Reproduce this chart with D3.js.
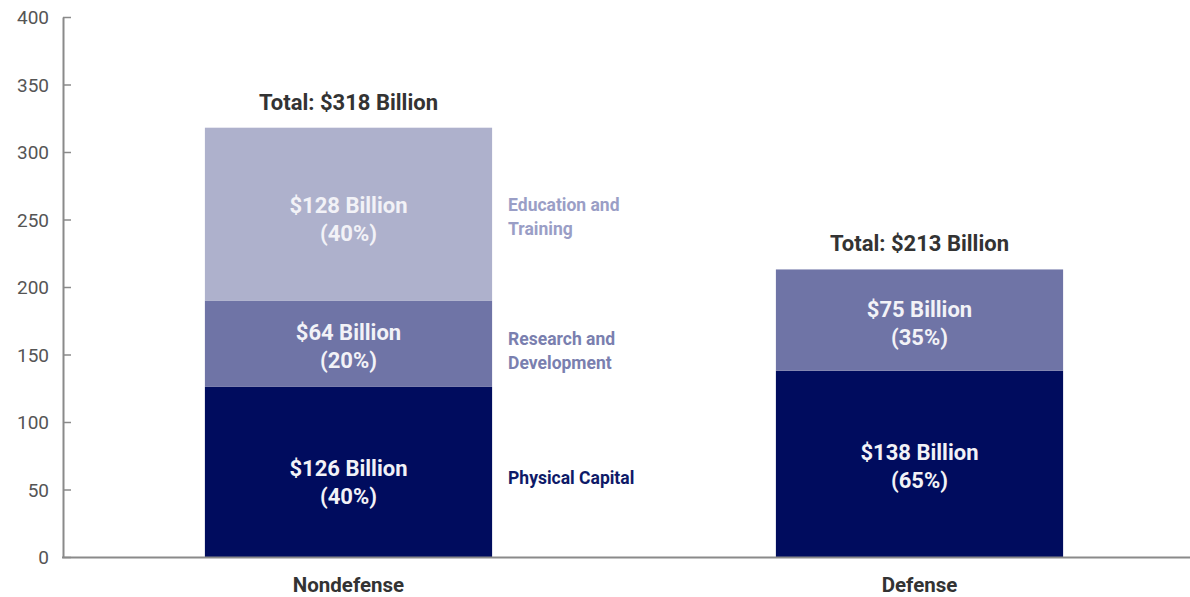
<!DOCTYPE html>
<html>
<head>
<meta charset="utf-8">
<script src="https://cdn.jsdelivr.net/npm/d3@7"></script>
<style>
  html, body { margin: 0; padding: 0; background: #fff; }
  svg { display: block; }
  text { font-family: "Roboto", "DejaVu Sans Condensed", sans-serif; }
</style>
</head>
<body>
<svg id="chart" width="1190" height="597"></svg>
<script>
// ---- data ----
const categories = ["Nondefense", "Defense"];
const seriesNames = ["Physical Capital", "Research and Development", "Education and Training"];
const physicalCapital = [126, 138];
const researchDevelopment = [64, 75];
const educationTraining = [128, 0];
const percentPhysical = ["40%", "65%"];
const percentResearch = ["20%", "35%"];
const percentEducation = ["40%", ""];
const totals = [318, 213];
const yTicks = [0, 50, 100, 150, 200, 250, 300, 350, 400];
const sideLabels = [["Physical Capital"], ["Research and", "Development"], ["Education and", "Training"]];

// ---- layout ----
const svg = d3.select("#chart");
const colors = ["#000C5E", "#6F74A6", "#AEB1CC"];
const sideColors = ["#0E1A68", "#7A7FAF", "#9A9EC6"];
const axisColor = "#8a8a8a";
// small vertical nudges for in-bar labels [series][category] and side labels [series]
const labelNudge = [[9, 1], [1, 2], [4, 0]];
const sideNudge = [-2, -1, -5];

const y = d3.scaleLinear().domain([0, 400]).range([557, 17]);
const x = d3.scaleBand().domain(categories).range([63, 1205]).paddingInner(0.497).paddingOuter(0.2485);

const seriesValues = [physicalCapital, researchDevelopment, educationTraining];
const seriesPct = [percentPhysical, percentResearch, percentEducation];

// y axis
const yAxis = d3.axisLeft(y).tickValues(yTicks).tickSize(-8).tickPadding(14).tickSizeOuter(0);
const gy = svg.append("g").attr("transform", "translate(63,0)").call(yAxis);
gy.select(".domain").attr("stroke", axisColor).attr("stroke-width", 2);
gy.selectAll(".tick line").attr("stroke", axisColor).attr("stroke-width", 1.5);
gy.selectAll(".tick text").attr("fill", "#555")
  .style("font-size", "19px").attr("dy", "0.35em");

// bars
categories.forEach((cat, ci) => {
  let base = 0;
  seriesValues.forEach((vals, si) => {
    const v = vals[ci];
    if (!v) return;
    const y0 = y(base), y1 = y(base + v);
    svg.append("rect")
      .attr("x", x(cat)).attr("width", x.bandwidth())
      .attr("y", y1).attr("height", y0 - y1)
      .attr("fill", colors[si]);
    const mid = (y0 + y1) / 2 + 2;
    const cy = mid + labelNudge[si][ci];
    const cx = x(cat) + x.bandwidth() / 2;
    const t = svg.append("text")
      .attr("x", cx)
      .attr("text-anchor", "middle")
      .attr("fill", "#F2F2F7")
      .style("font-size", "22px").style("font-weight", "bold");
    t.append("tspan").attr("x", cx).attr("y", cy - 14 + 7).text("$" + v + " Billion");
    t.append("tspan").attr("x", cx).attr("y", cy + 14 + 7).text("(" + seriesPct[si][ci] + ")");
    // side labels for the first category only
    if (ci === 0) {
      const lines = sideLabels[si];
      const sx = x(cat) + x.bandwidth() + 16;
      const st = svg.append("text")
        .attr("x", sx)
        .attr("fill", sideColors[si])
        .style("font-size", "17.5px").style("font-weight", "bold");
      lines.forEach((ln, li) => {
        st.append("tspan").attr("x", sx)
          .attr("y", mid + 12 + sideNudge[si] + (li - (lines.length - 1) / 2) * 24).text(ln);
      });
    }
    base += v;
  });
  // total
  svg.append("text")
    .attr("x", x(cat) + x.bandwidth() / 2)
    .attr("y", y(totals[ci]) - 18)
    .attr("text-anchor", "middle")
    .attr("fill", "#333")
    .style("font-size", "22px").style("font-weight", "bold")
    .text("Total: $" + totals[ci] + " Billion");
});

// x axis
const xAxis = d3.axisBottom(x).tickSize(0).tickPadding(20);
const gx = svg.append("g").attr("transform", "translate(0,557)").call(xAxis);
gx.select(".domain").remove();
svg.append("line").attr("x1", 62).attr("x2", 1190).attr("y1", 557.5).attr("y2", 557.5)
  .attr("stroke", axisColor).attr("stroke-width", 2);
gx.selectAll(".tick text").attr("fill", "#333").style("font-size", "20.5px").style("font-weight", "bold");
</script>
</body>
</html>
